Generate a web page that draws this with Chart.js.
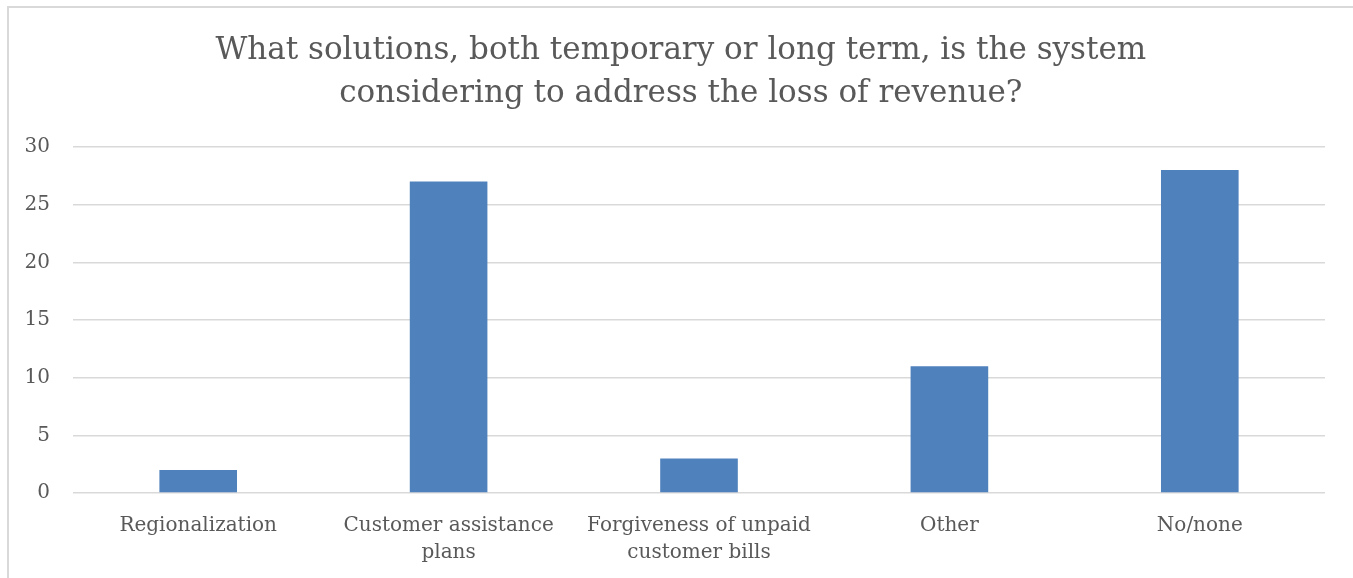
<!DOCTYPE html>
<html>
<head>
<meta charset="utf-8">
<script src="https://cdn.jsdelivr.net/npm/chart.js@4/dist/chart.umd.min.js"></script>
<style>
  html, body { margin: 0; padding: 0; background: #fff; overflow: hidden; }
  #wrap { position: absolute; left: 0; top: 0; width: 1353px; height: 578px; overflow: hidden; }
  #frame { position: absolute; left: 7px; top: 6px; width: 2000px; height: 1000px;
           border-left: 2px solid #d9d9d9; border-top: 2px solid #d9d9d9; }
  #box { position: absolute; left: 0; top: 0; width: 1353px; height: 578px; }
</style>
</head>
<body>
<div id="wrap">
  <div id="frame"></div>
  <div id="box"><canvas id="chart"></canvas></div>
</div>
<script>
let categories = [
    'Regionalization',
    ['Customer assistance', 'plans'],
    ['Forgiveness of unpaid', 'customer bills'],
    'Other',
    'No/none'
];
let counts = [2, 27, 3, 11, 28];
let yTicks = [0, 5, 10, 15, 20, 25, 30];

// leading spaces nudge the centred title a little to the right
let titleLines = [
    '   What solutions, both temporary or long term, is the system',
    '   considering to address the loss of revenue?'
];

const serif = 'DejaVu Serif';
const grey = '#595959';

function getChart(){
    const ctx = document.getElementById('chart').getContext('2d');
    const chart = new Chart(ctx, {
        type: 'bar',
        data: {
            labels: categories,
            datasets: [{
                label: 'Count',
                backgroundColor: '#4f81bd',
                borderWidth: 0,
                barPercentage: 0.31,
                categoryPercentage: 1,
                data: counts
            }]
        },
        options: {
            responsive: true,
            maintainAspectRatio: false,
            animation: false,
            layout: { padding: { left: 7, right: 28, top: 0, bottom: 0 } },
            plugins: {
                legend: { display: false },
                tooltip: { enabled: false },
                title: {
                    display: true,
                    text: titleLines,
                    color: grey,
                    font: { family: serif, size: 31, weight: 'normal', lineHeight: 1.387 },
                    padding: { top: 29, bottom: 32 }
                }
            },
            scales: {
                x: {
                    grid: { display: false },
                    border: { display: false },
                    ticks: {
                        color: grey,
                        font: { family: serif, size: 20, lineHeight: 1.35 },
                        padding: 11,
                        maxRotation: 0,
                        autoSkip: false
                    },
                    afterFit: function(scale){ scale.height = 85; }
                },
                y: {
                    min: 0,
                    max: 30,
                    afterBuildTicks: function(scale){
                        scale.ticks = yTicks.map(v => ({ value: v }));
                    },
                    grid: { color: '#d9d9d9', lineWidth: 1.5, drawTicks: false },
                    border: { display: false },
                    ticks: {
                        color: grey,
                        font: { family: serif, size: 20 },
                        padding: 23
                    },
                    afterFit: function(scale){ scale.width = 66; }
                }
            }
        }
    });
}
getChart();
</script>
</body>
</html>
